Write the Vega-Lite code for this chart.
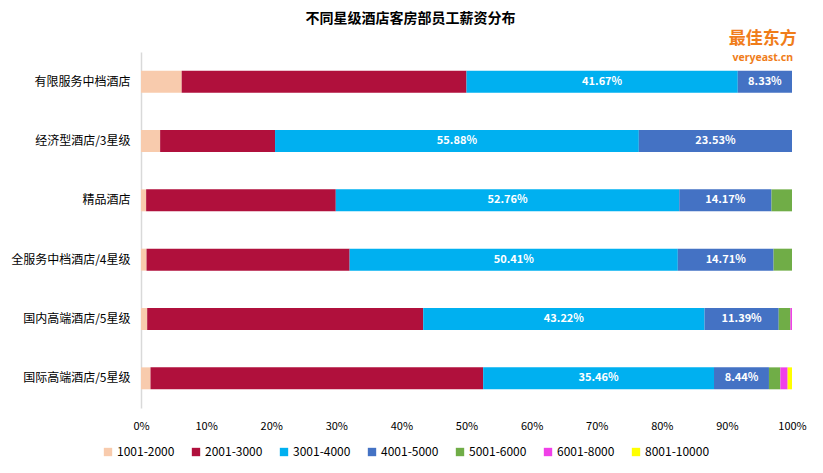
{
  "$schema": "https://vega.github.io/schema/vega-lite/v6.json",
  "width": 651,
  "height": 356,
  "autosize": {"type": "none"},
  "padding": {"left": 141, "top": 52, "right": 31, "bottom": 65},
  "background": "white",
  "title": {
    "text": "不同星级酒店客房部员工薪资分布",
    "font": "Noto Sans CJK SC",
    "fontSize": 14,
    "fontWeight": "bold",
    "color": "#000000",
    "anchor": "middle",
    "dx": -56,
    "offset": 4
  },
  "datasets": {
    "salary": [
      {"hotel": "有限服务中档酒店", "range": "1001-2000", "v": 0.0625},
      {"hotel": "有限服务中档酒店", "range": "2001-3000", "v": 0.4375},
      {"hotel": "有限服务中档酒店", "range": "3001-4000", "v": 0.4167},
      {"hotel": "有限服务中档酒店", "range": "4001-5000", "v": 0.0833},
      {"hotel": "经济型酒店/3星级", "range": "1001-2000", "v": 0.0294},
      {"hotel": "经济型酒店/3星级", "range": "2001-3000", "v": 0.1765},
      {"hotel": "经济型酒店/3星级", "range": "3001-4000", "v": 0.5588},
      {"hotel": "经济型酒店/3星级", "range": "4001-5000", "v": 0.2353},
      {"hotel": "精品酒店", "range": "1001-2000", "v": 0.0079},
      {"hotel": "精品酒店", "range": "2001-3000", "v": 0.2913},
      {"hotel": "精品酒店", "range": "3001-4000", "v": 0.5276},
      {"hotel": "精品酒店", "range": "4001-5000", "v": 0.1417},
      {"hotel": "精品酒店", "range": "5001-6000", "v": 0.0315},
      {"hotel": "全服务中档酒店/4星级", "range": "1001-2000", "v": 0.0085},
      {"hotel": "全服务中档酒店/4星级", "range": "2001-3000", "v": 0.312},
      {"hotel": "全服务中档酒店/4星级", "range": "3001-4000", "v": 0.5041},
      {"hotel": "全服务中档酒店/4星级", "range": "4001-5000", "v": 0.1471},
      {"hotel": "全服务中档酒店/4星级", "range": "5001-6000", "v": 0.0283},
      {"hotel": "国内高端酒店/5星级", "range": "1001-2000", "v": 0.0095},
      {"hotel": "国内高端酒店/5星级", "range": "2001-3000", "v": 0.424},
      {"hotel": "国内高端酒店/5星级", "range": "3001-4000", "v": 0.4322},
      {"hotel": "国内高端酒店/5星级", "range": "4001-5000", "v": 0.1139},
      {"hotel": "国内高端酒店/5星级", "range": "5001-6000", "v": 0.018},
      {"hotel": "国内高端酒店/5星级", "range": "6001-8000", "v": 0.0024},
      {"hotel": "国际高端酒店/5星级", "range": "1001-2000", "v": 0.0146},
      {"hotel": "国际高端酒店/5星级", "range": "2001-3000", "v": 0.511},
      {"hotel": "国际高端酒店/5星级", "range": "3001-4000", "v": 0.3546},
      {"hotel": "国际高端酒店/5星级", "range": "4001-5000", "v": 0.0844},
      {"hotel": "国际高端酒店/5星级", "range": "5001-6000", "v": 0.0175},
      {"hotel": "国际高端酒店/5星级", "range": "6001-8000", "v": 0.0112},
      {"hotel": "国际高端酒店/5星级", "range": "8001-10000", "v": 0.0067}
    ],
    "logo": [
      {"name": "最佳东方", "sub": "veryeast.cn"}
    ]
  },
  "config": {
    "view": {"stroke": null},
    "font": "Noto Sans CJK SC"
  },
  "layer": [
    {
      "data": {"name": "salary"},
      "layer": [
        {
          "mark": {"type": "bar"},
          "encoding": {
            "y": {
              "field": "hotel", "type": "nominal",
              "sort": ["有限服务中档酒店", "经济型酒店/3星级", "精品酒店", "全服务中档酒店/4星级", "国内高端酒店/5星级", "国际高端酒店/5星级"],
              "scale": {"paddingInner": 0.63, "paddingOuter": 0.315},
              "axis": {
                "title": null, "ticks": false, "domain": true, "domainColor": "#D9D9D9", "domainWidth": 1.5,
                "labelFont": "Noto Sans CJK SC", "labelFontSize": 12, "labelColor": "#000000", "labelPadding": 11, "labelLimit": 200
              }
            },
            "x": {
              "field": "v", "type": "quantitative", "stack": "zero",
              "scale": {"domain": [0, 1], "nice": false},
              "axis": {
                "title": null, "format": "%", "values": [0, 0.1, 0.2, 0.3, 0.4, 0.5, 0.6, 0.7, 0.8, 0.9, 1],
                "grid": false, "ticks": false, "domain": false,
                "labelFont": "Noto Sans CJK SC", "labelFontSize": 11, "labelColor": "#000000", "labelPadding": 12,
                "labelFlush": false
              }
            },
            "order": {"field": "range", "sort": "ascending"},
            "color": {
              "field": "range", "type": "nominal",
              "scale": {
                "domain": ["1001-2000", "2001-3000", "3001-4000", "4001-5000", "5001-6000", "6001-8000", "8001-10000"],
                "range": ["#F8CBAD", "#B0103C", "#00B0F0", "#4472C4", "#70AD47", "#F040E8", "#FFFF00"]
              },
              "legend": {
                "title": null, "orient": "none", "legendX": -39, "legendY": 394,
                "direction": "horizontal", "columns": 7, "gridAlign": "all",
                "symbolType": "square", "symbolSize": 70, "symbolStrokeWidth": 0,
                "labelFont": "Noto Sans CJK SC", "labelFontSize": 12, "labelColor": "#000000",
                "labelOffset": 3, "columnPadding": 8
              }
            }
          }
        },
        {
          "mark": {"type": "text", "color": "white", "fontWeight": "bold", "fontSize": 11, "font": "Noto Sans CJK SC", "align": "center", "baseline": "middle"},
          "encoding": {
            "y": {"field": "hotel", "type": "nominal", "sort": ["有限服务中档酒店", "经济型酒店/3星级", "精品酒店", "全服务中档酒店/4星级", "国内高端酒店/5星级", "国际高端酒店/5星级"]},
            "x": {"field": "v", "type": "quantitative", "stack": "zero", "bandPosition": 0.5},
            "order": {"field": "range", "sort": "ascending"},
            "detail": {"field": "range"},
            "text": {"field": "v", "type": "quantitative", "format": ".2%"},
            "opacity": {"condition": {"test": "datum.range === '3001-4000' || datum.range === '4001-5000'", "value": 1}, "value": 0}
          }
        }
      ]
    },
    {
      "data": {"name": "logo"},
      "layer": [
        {
          "mark": {"type": "text", "color": "#F07D1A", "fontWeight": "bold", "fontSize": 17, "font": "Noto Sans CJK SC", "align": "center", "baseline": "middle", "dy": -43},
          "encoding": {
            "x": {"datum": 0.955, "type": "quantitative"},
            "y": {"datum": "有限服务中档酒店", "type": "nominal"},
            "text": {"field": "name"}
          }
        },
        {
          "mark": {"type": "text", "color": "#F07D1A", "fontWeight": "bold", "fontSize": 10.5, "font": "Noto Sans", "align": "center", "baseline": "middle", "dy": -24},
          "encoding": {
            "x": {"datum": 0.955, "type": "quantitative"},
            "y": {"datum": "有限服务中档酒店", "type": "nominal"},
            "text": {"field": "sub"}
          }
        }
      ]
    }
  ]
}
